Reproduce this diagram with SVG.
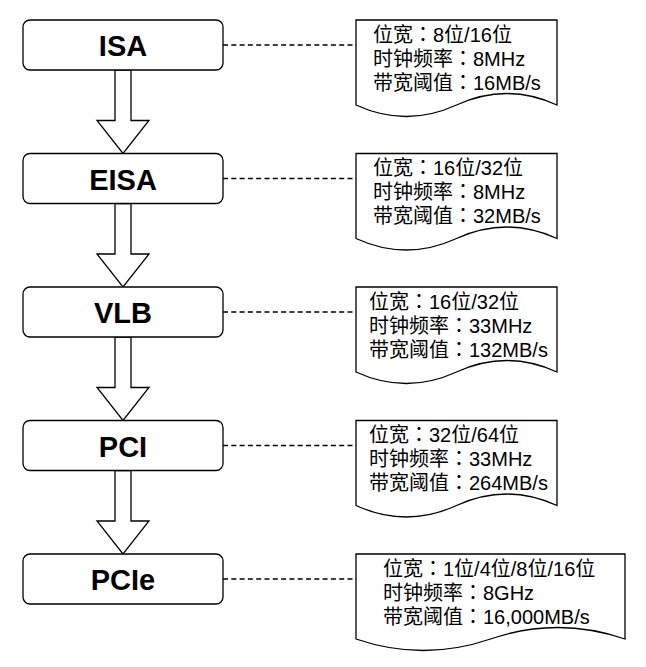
<svg xmlns="http://www.w3.org/2000/svg" width="646" height="667" viewBox="0 0 646 667">
<style>
.box{fill:#fff;stroke:#000;stroke-width:1.3}
.lbl{font-family:"Liberation Sans","Noto Sans CJK SC",Arial,sans-serif;font-weight:bold;font-size:29px;fill:#000;text-anchor:middle}
.doc{fill:#fff;stroke:#000;stroke-width:1.3}
.dt{font-family:"Liberation Sans","Noto Sans CJK SC",Arial,sans-serif;font-size:20px;fill:#000}
.c{font-family:"Liberation Sans","Noto Sans CJK JP","Noto Sans CJK TC",sans-serif}
.arr{fill:#fff;stroke:#000;stroke-width:1.3;stroke-linejoin:miter}
.dash{stroke:#000;stroke-width:1.3;stroke-dasharray:5 3.3;fill:none}
</style>
<rect width="646" height="667" fill="#fff"/>
<g id="connectors">
<line class="dash" x1="223" y1="45" x2="356" y2="45"/>
<line class="dash" x1="223" y1="178.5" x2="356" y2="178.5"/>
<line class="dash" x1="223" y1="312" x2="356" y2="312"/>
<line class="dash" x1="223" y1="445.5" x2="356" y2="445.5"/>
<line class="dash" x1="223" y1="579" x2="356" y2="579"/>
<polygon class="arr" points="115,70 131,70 131,120.5 149,120.5 123,153.5 97,120.5 115,120.5"/>
<polygon class="arr" points="115,203.5 131,203.5 131,254 149,254 123,287 97,254 115,254"/>
<polygon class="arr" points="115,337 131,337 131,387.5 149,387.5 123,420.5 97,387.5 115,387.5"/>
<polygon class="arr" points="115,470.5 131,470.5 131,521 149,521 123,554 97,521 115,521"/>
</g>
<g id="isa">
<rect class="box" x="23" y="20" width="200" height="50" rx="7"/>
<text class="lbl" x="123" y="56">ISA</text>
</g>
<g id="eisa">
<rect class="box" x="23" y="153.5" width="200" height="50" rx="7"/>
<text class="lbl" x="123" y="189.5">EISA</text>
</g>
<g id="vlb">
<rect class="box" x="23" y="287" width="200" height="50" rx="7"/>
<text class="lbl" x="123" y="323">VLB</text>
</g>
<g id="pci">
<rect class="box" x="23" y="420.5" width="200" height="50" rx="7"/>
<text class="lbl" x="123" y="456.5">PCI</text>
</g>
<g id="pcie">
<rect class="box" x="23" y="554" width="200" height="50" rx="7"/>
<text class="lbl" x="123" y="590">PCIe</text>
</g>
<g id="isa-doc">
<path class="doc" d="M356,20 H557 V105 Q506.75,82 456.5,105 Q406.25,128 356,105 Z"/>
<text class="dt" x="373" y="41.5">位宽<tspan class="c">：</tspan>8位/16位</text>
<text class="dt" x="373" y="65.5">时钟频率<tspan class="c">：</tspan>8MHz</text>
<text class="dt" x="373" y="89.5">带宽阈值<tspan class="c">：</tspan>16MB/s</text>
</g>
<g id="eisa-doc">
<path class="doc" d="M356,153.5 H557 V238.5 Q506.75,215.5 456.5,238.5 Q406.25,261.5 356,238.5 Z"/>
<text class="dt" x="373" y="175">位宽<tspan class="c">：</tspan>16位/32位</text>
<text class="dt" x="373" y="199">时钟频率<tspan class="c">：</tspan>8MHz</text>
<text class="dt" x="373" y="223">带宽阈值<tspan class="c">：</tspan>32MB/s</text>
</g>
<g id="vlb-doc">
<path class="doc" d="M356,287 H557 V372 Q506.75,349 456.5,372 Q406.25,395 356,372 Z"/>
<text class="dt" x="369" y="308.5">位宽<tspan class="c">：</tspan>16位/32位</text>
<text class="dt" x="369" y="332.5">时钟频率<tspan class="c">：</tspan>33MHz</text>
<text class="dt" x="369" y="356.5">带宽阈值<tspan class="c">：</tspan>132MB/s</text>
</g>
<g id="pci-doc">
<path class="doc" d="M356,420.5 H557 V505.5 Q506.75,482.5 456.5,505.5 Q406.25,528.5 356,505.5 Z"/>
<text class="dt" x="369" y="442">位宽<tspan class="c">：</tspan>32位/64位</text>
<text class="dt" x="369" y="466">时钟频率<tspan class="c">：</tspan>33MHz</text>
<text class="dt" x="369" y="490">带宽阈值<tspan class="c">：</tspan>264MB/s</text>
</g>
<g id="pcie-doc">
<path class="doc" d="M356,554 H625 V639 Q557.75,616 490.5,639 Q423.25,662 356,639 Z"/>
<text class="dt" x="383" y="575.5">位宽<tspan class="c">：</tspan>1位/4位/8位/16位</text>
<text class="dt" x="383" y="599.5">时钟频率<tspan class="c">：</tspan>8GHz</text>
<text class="dt" x="383" y="623.5">带宽阈值<tspan class="c">：</tspan>16,000MB/s</text>
</g>
</svg>
